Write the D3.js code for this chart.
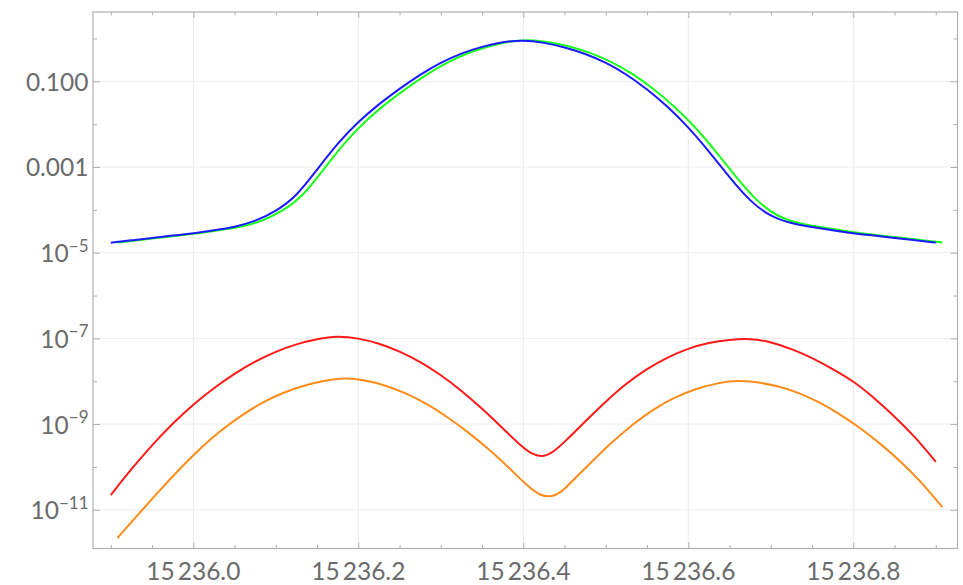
<!DOCTYPE html>
<html>
<head>
<meta charset="utf-8">
<script src="https://cdn.jsdelivr.net/npm/d3@7"></script>
<style>
  body { margin: 0; background: #fff; }
  text { font-family: Lato, "Open Sans", sans-serif; fill: #6b6b6b; }
</style>
</head>
<body>
<div id="chart"></div>
<script>
// sample positions (wavenumber)
const xMain = [15235.900,15235.925,15235.950,15235.975,15236.000,15236.025,15236.050,15236.075,15236.100,15236.125,
  15236.150,15236.175,15236.200,15236.225,15236.250,15236.275,15236.300,15236.325,15236.350,15236.375,
  15236.400,15236.425,15236.450,15236.475,15236.500,15236.525,15236.550,15236.575,15236.600,15236.625,
  15236.650,15236.675,15236.700,15236.725,15236.750,15236.775,15236.800,15236.825,15236.850,15236.875,15236.900];
const xShift = [15235.908,15235.933,15235.958,15235.983,15236.008,15236.033,15236.058,15236.083,15236.108,15236.133,
  15236.158,15236.183,15236.208,15236.233,15236.258,15236.283,15236.308,15236.333,15236.358,15236.383,
  15236.408,15236.433,15236.458,15236.483,15236.508,15236.533,15236.558,15236.583,15236.608,15236.633,
  15236.658,15236.683,15236.708,15236.733,15236.758,15236.783,15236.808,15236.833,15236.858,15236.883,15236.908];
// dip regions get a couple of extra samples
const xRed = [15235.900,15235.925,15235.950,15235.975,15236.000,15236.025,15236.050,15236.075,15236.100,15236.125,
  15236.150,15236.175,15236.200,15236.225,15236.250,15236.275,15236.300,15236.325,15236.350,15236.375,
  15236.400,15236.4125,15236.425,15236.4375,15236.450,15236.475,15236.500,15236.525,15236.550,15236.575,15236.600,15236.625,
  15236.650,15236.675,15236.700,15236.725,15236.750,15236.775,15236.800,15236.825,15236.850,15236.875,15236.900];
const xOrange = [15235.908,15235.933,15235.958,15235.983,15236.008,15236.033,15236.058,15236.083,15236.108,15236.133,
  15236.158,15236.183,15236.208,15236.233,15236.258,15236.283,15236.308,15236.333,15236.358,15236.383,
  15236.408,15236.4205,15236.433,15236.4455,15236.458,15236.483,15236.508,15236.533,15236.558,15236.583,15236.608,15236.633,
  15236.658,15236.683,15236.708,15236.733,15236.758,15236.783,15236.808,15236.833,15236.858,15236.883,15236.908];

// series values as log10(y)
const logBlue = [-4.767,-4.711,-4.655,-4.601,-4.547,-4.475,-4.402,-4.270,-4.036,-3.688,
  -3.058,-2.440,-1.941,-1.531,-1.171,-0.842,-0.559,-0.343,-0.190,-0.078,
  -0.036,-0.095,-0.204,-0.355,-0.561,-0.834,-1.183,-1.590,-2.066,-2.633,
  -3.245,-3.807,-4.165,-4.319,-4.400,-4.475,-4.547,-4.601,-4.657,-4.711,-4.764];
const logGreen = [-4.765,-4.709,-4.653,-4.600,-4.545,-4.473,-4.400,-4.268,-4.034,-3.684,
  -3.052,-2.434,-1.935,-1.525,-1.165,-0.836,-0.552,-0.335,-0.180,-0.068,
  -0.025,-0.085,-0.194,-0.345,-0.551,-0.826,-1.175,-1.582,-2.058,-2.625,
  -3.239,-3.801,-4.160,-4.315,-4.396,-4.471,-4.543,-4.597,-4.653,-4.707,-4.760];
const logRed = [-10.655,-10.045,-9.485,-8.983,-8.538,-8.154,-7.819,-7.534,-7.305,-7.130,
  -7.012,-6.940,-6.994,-7.114,-7.299,-7.544,-7.851,-8.218,-8.638,-9.092,
  -9.565,-9.719,-9.770,-9.635,-9.418,-8.939,-8.470,-8.047,-7.704,-7.436,-7.232,-7.098,
  -7.029,-7.002,-7.079,-7.245,-7.450,-7.714,-7.995,-8.380,-8.820,-9.300,-9.880];
const logOrange = [-11.658,-11.111,-10.575,-10.052,-9.569,-9.153,-8.798,-8.501,-8.271,-8.101,
  -7.988,-7.917,-7.972,-8.094,-8.281,-8.524,-8.832,-9.187,-9.581,-10.023,
  -10.498,-10.665,-10.705,-10.608,-10.353,-9.874,-9.411,-8.998,-8.651,-8.378,-8.179,-8.052,
  -7.978,-8.018,-8.105,-8.260,-8.480,-8.757,-9.084,-9.460,-9.878,-10.362,-10.939];

// ticks
const xMajor = [15236.0, 15236.2, 15236.4, 15236.6, 15236.8];
const xTickLabels = ["15\u2009236.0", "15\u2009236.2", "15\u2009236.4", "15\u2009236.6", "15\u2009236.8"];
const xMinor = [15235.9, 15235.95, 15236.05, 15236.1, 15236.15, 15236.25, 15236.3, 15236.35,
  15236.45, 15236.5, 15236.55, 15236.65, 15236.7, 15236.75, 15236.85, 15236.9];
const yMajor = [1e-1, 1e-3, 1e-5, 1e-7, 1e-9, 1e-11];
const yLabelBase = ["0.100", "0.001", "10", "10", "10", "10"];
const yLabelExp = ["", "", "\u22125", "\u22127", "\u22129", "\u221211"];
const yMinor = [1e0, 1e-2, 1e-4, 1e-6, 1e-8, 1e-10];

const width = 963, height = 585;
const pLeft = 93, pRight = 957.5, pTop = 12, pBottom = 548.5;

const svg = d3.select("#chart").append("svg")
  .attr("width", width)
  .attr("height", height);

const x = d3.scaleLinear()
  .domain([15235.8784, 15236.9263])
  .range([pLeft, pRight]);
const y = d3.scaleLog()
  .domain([Math.pow(10, -11.903), Math.pow(10, 0.617)])
  .range([pBottom, pTop]);

// grid
svg.append("g").selectAll("line").data(xMajor).enter().append("line")
  .attr("x1", d => x(d)).attr("x2", d => x(d))
  .attr("y1", pTop).attr("y2", pBottom)
  .attr("stroke", "#ececec").attr("stroke-width", 1);
svg.append("g").selectAll("line").data(yMajor).enter().append("line")
  .attr("x1", pLeft).attr("x2", pRight)
  .attr("y1", d => y(d)).attr("y2", d => y(d))
  .attr("stroke", "#ececec").attr("stroke-width", 1);

// axes (ticks inward, labels drawn separately)
function tickAxis(axisFn, scale, vals, size, transform) {
  const g = svg.append("g")
    .attr("transform", transform)
    .call(axisFn(scale).tickValues(vals).tickSize(-size).tickFormat(""));
  g.select(".domain").remove();
  g.selectAll(".tick line").attr("stroke", "#b0b0b0");
}
tickAxis(d3.axisBottom, x, xMajor, 6, `translate(0,${pBottom})`);
tickAxis(d3.axisBottom, x, xMinor, 3.5, `translate(0,${pBottom})`);
tickAxis(d3.axisTop, x, xMajor, 6, `translate(0,${pTop})`);
tickAxis(d3.axisTop, x, xMinor, 3.5, `translate(0,${pTop})`);
tickAxis(d3.axisLeft, y, yMajor, 7, `translate(${pLeft},0)`);
tickAxis(d3.axisLeft, y, yMinor, 4, `translate(${pLeft},0)`);
tickAxis(d3.axisRight, y, yMajor, 7, `translate(${pRight},0)`);
tickAxis(d3.axisRight, y, yMinor, 4, `translate(${pRight},0)`);

// frame
svg.append("rect")
  .attr("x", pLeft).attr("y", pTop)
  .attr("width", pRight - pLeft).attr("height", pBottom - pTop)
  .attr("fill", "none").attr("stroke", "#b0b0b0").attr("stroke-width", 1.2);

// tick labels
svg.append("g").selectAll("text").data(xMajor).enter().append("text")
  .attr("x", d => x(d))
  .attr("y", pBottom + 31.5)
  .attr("text-anchor", "middle")
  .attr("font-size", 24.5)
  .text((d, i) => xTickLabels[i]);

const yl = svg.append("g").selectAll("text").data(yMajor).enter().append("text")
  .attr("x", pLeft - 4.5)
  .attr("y", d => y(d) + 9.5)
  .attr("text-anchor", "end")
  .attr("font-size", 24.5);
yl.append("tspan").text((d, i) => yLabelBase[i]);
yl.append("tspan")
  .attr("dy", -10.5)
  .attr("font-size", 17)
  .text((d, i) => yLabelExp[i]);

// curves (basis spline smooths out reading noise)
const line = d3.line()
  .x(d => x(d[0]))
  .y(d => y(Math.pow(10, d[1])))
  .curve(d3.curveBasis);

const series = [
  { xs: xOrange, ys: logOrange, color: "#ff8c1a" },
  { xs: xRed, ys: logRed, color: "#ff1a1a" },
  { xs: xShift, ys: logGreen, color: "#1aff1a" },
  { xs: xMain, ys: logBlue, color: "#1a1aff" }
];
series.forEach(s => {
  svg.append("path")
    .datum(s.xs.map((v, i) => [v, s.ys[i]]))
    .attr("fill", "none")
    .attr("stroke", s.color)
    .attr("stroke-width", 2)
    .attr("d", line);
});
</script>
</body>
</html>
